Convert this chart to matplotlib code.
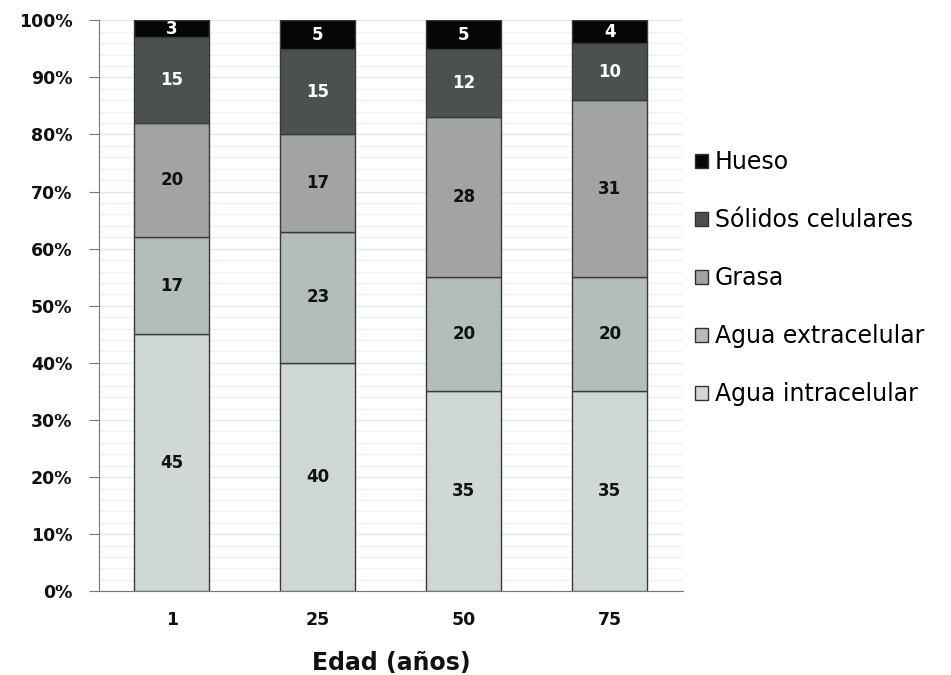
import matplotlib
matplotlib.use("Agg")
import matplotlib.pyplot as plt
from matplotlib.ticker import MultipleLocator, PercentFormatter
from matplotlib.patches import Patch
import numpy as np

ages = ["1", "25", "50", "75"]
components = ["Agua intracelular", "Agua extracelular", "Grasa",
              "Sólidos celulares", "Hueso"]
agua_intracelular = [45, 40, 35, 35]
agua_extracelular = [17, 23, 20, 20]
grasa = [20, 17, 28, 31]
solidos_celulares = [15, 15, 12, 10]
hueso = [3, 5, 5, 4]

series = [agua_intracelular, agua_extracelular, grasa, solidos_celulares, hueso]
colors = ["#d0d8d6", "#b3bdbc", "#a1a4a2", "#4b5151", "#050505"]
text_colors = ["#111111", "#111111", "#111111", "white", "white"]

plt.rcParams["font.family"] = ["DejaVu Sans"]

fig = plt.figure(figsize=(9.51, 6.75), dpi=100)
ax = fig.add_axes([0.104, 0.124, 0.614, 0.846])

x = np.arange(len(ages))
bottom = np.zeros(len(ages))
for vals, col, tcol in zip(series, colors, text_colors):
    vals = np.array(vals, dtype=float)
    ax.bar(x, vals, width=0.515, bottom=bottom, color=col,
           edgecolor="#3a3a3a", linewidth=1.0, zorder=3)
    for xi, b, v in zip(x, bottom, vals):
        ax.text(xi, b + v / 2, f"{int(v)}", ha="center", va="center",
                fontsize=12, fontweight="bold", color=tcol, zorder=4)
    bottom += vals

ax.set_xlim(-0.5, 3.5)
ax.set_ylim(0, 100)
ax.yaxis.set_major_locator(MultipleLocator(10))
ax.yaxis.set_minor_locator(MultipleLocator(2))
ax.yaxis.set_major_formatter(PercentFormatter(decimals=0))
ax.grid(axis="y", which="major", color="#e2e8e8", linewidth=1.0, zorder=0)
ax.grid(axis="y", which="minor", color="#f0f2f2", linewidth=1.0, zorder=0)
ax.set_axisbelow(True)

ax.set_xticks(x)
ax.set_xticklabels(ages)
ax.tick_params(axis="x", length=0, pad=14, labelsize=12.5)
ax.tick_params(axis="y", which="major", length=7, color="#777777",
               direction="out", labelsize=12.5, pad=12)
ax.tick_params(axis="y", which="minor", length=0)
for lbl in ax.get_xticklabels() + ax.get_yticklabels():
    lbl.set_fontweight("bold")
    lbl.set_color("#111111")

for side in ["top", "right"]:
    ax.spines[side].set_visible(False)
ax.spines["left"].set_color("#777777")
ax.spines["bottom"].set_color("#777777")

ax.set_xlabel("Edad (años)", fontsize=17, fontweight="bold", labelpad=16,
              color="#111111")

handles = [Patch(facecolor=c, edgecolor="#333333", linewidth=1.0, label=l)
           for c, l in zip(colors, components)][::-1]
fig.legend(handles=handles, loc="center left",
           bbox_to_anchor=(0.731, 0.588), frameon=False, fontsize=17,
           handlelength=0.55, handleheight=0.55, handletextpad=0.28,
           labelspacing=1.44, borderaxespad=0, borderpad=0)

fig.savefig("out.png", dpi=100)
